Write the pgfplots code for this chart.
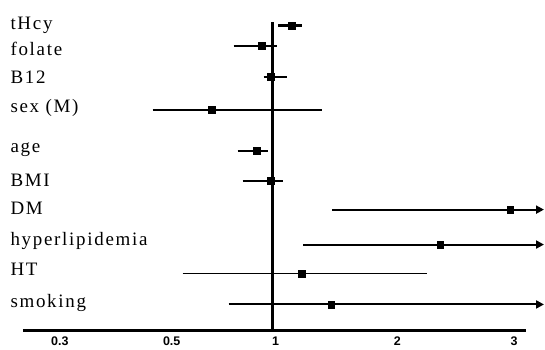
\documentclass[border=0pt]{standalone}
\usepackage{fontspec}
\setmainfont{Liberation Serif}[LetterSpace=9]
\newfontfamily\tickfont{Liberation Sans}
\usepackage{pgfplots}
\pgfplotsset{compat=1.18}
\usetikzlibrary{arrows.meta}
\begin{document}
\begin{tikzpicture}
\begin{axis}[
  scale only axis, width=504pt, height=309pt,
  xmin=23, xmax=527, ymin=18, ymax=327,
  clip=false,
  hide y axis,
  axis x line*=bottom,
  x axis line style={line width=2.4pt,-},
  xtick={60,172,276,398,515},
  xticklabels={0.3,0.5,1,2,3},
  major tick length=0pt,
  xticklabel style={font=\tickfont\bfseries\fontsize{12.5}{14}\selectfont, yshift=-3pt},
]
% reference line
\addplot[line width=3pt] coordinates {(273,18) (273,327)};
% confidence intervals (positions read off the reference scale)
\addplot[line width=2.8pt] coordinates {(279,323.3) (303,323.3)};
\addplot[line width=2.4pt] coordinates {(234,303) (278,303)};
\addplot[line width=2.4pt] coordinates {(264,272) (288,272)};
\addplot[line width=2pt] coordinates {(153,239) (323,239)};
\addplot[line width=2.4pt] coordinates {(238,198) (268,198)};
\addplot[line width=2pt] coordinates {(243,168) (284,168)};
\addplot[line width=2pt, -{Triangle[length=8pt,width=8pt]}] coordinates {(333,139) (545,139)};
\addplot[line width=2pt, -{Triangle[length=8pt,width=8pt]}] coordinates {(304,104) (545,104)};
\addplot[line width=2pt] coordinates {(183,75) (428,75)};
\addplot[line width=2pt, -{Triangle[length=8pt,width=8pt]}] coordinates {(229,44) (545,44)};
% point estimates
\addplot[only marks, mark=square*, mark size=3.3pt, black] coordinates {
 (292,323.3) (262,303) (271,272) (212,239) (257,198) (271,168)
 (511,139) (441,104) (302,75) (332,44)};
% row labels
\node[anchor=base west, font=\fontsize{19}{22}\selectfont] at (axis cs:7,319.5) {tHcy};
\node[anchor=base west, font=\fontsize{19}{22}\selectfont] at (axis cs:7,293.4) {folate};
\node[anchor=base west, font=\fontsize{19}{22}\selectfont] at (axis cs:7,265.6) {B12};
\node[anchor=base west, font=\fontsize{19}{22}\selectfont] at (axis cs:7,236) {sex (M)};
\node[anchor=base west, font=\fontsize{19}{22}\selectfont] at (axis cs:7,196) {age};
\node[anchor=base west, font=\fontsize{19}{22}\selectfont] at (axis cs:7,162.3) {BMI};
\node[anchor=base west, font=\fontsize{19}{22}\selectfont] at (axis cs:7,134) {DM};
\node[anchor=base west, font=\fontsize{19}{22}\selectfont] at (axis cs:7,103) {hyperlipidemia};
\node[anchor=base west, font=\fontsize{19}{22}\selectfont] at (axis cs:7,72.5) {HT};
\node[anchor=base west, font=\fontsize{19}{22}\selectfont] at (axis cs:7,41) {smoking};
\path (axis cs:0,0) rectangle (axis cs:545,349);
\end{axis}
\end{tikzpicture}
\end{document}
